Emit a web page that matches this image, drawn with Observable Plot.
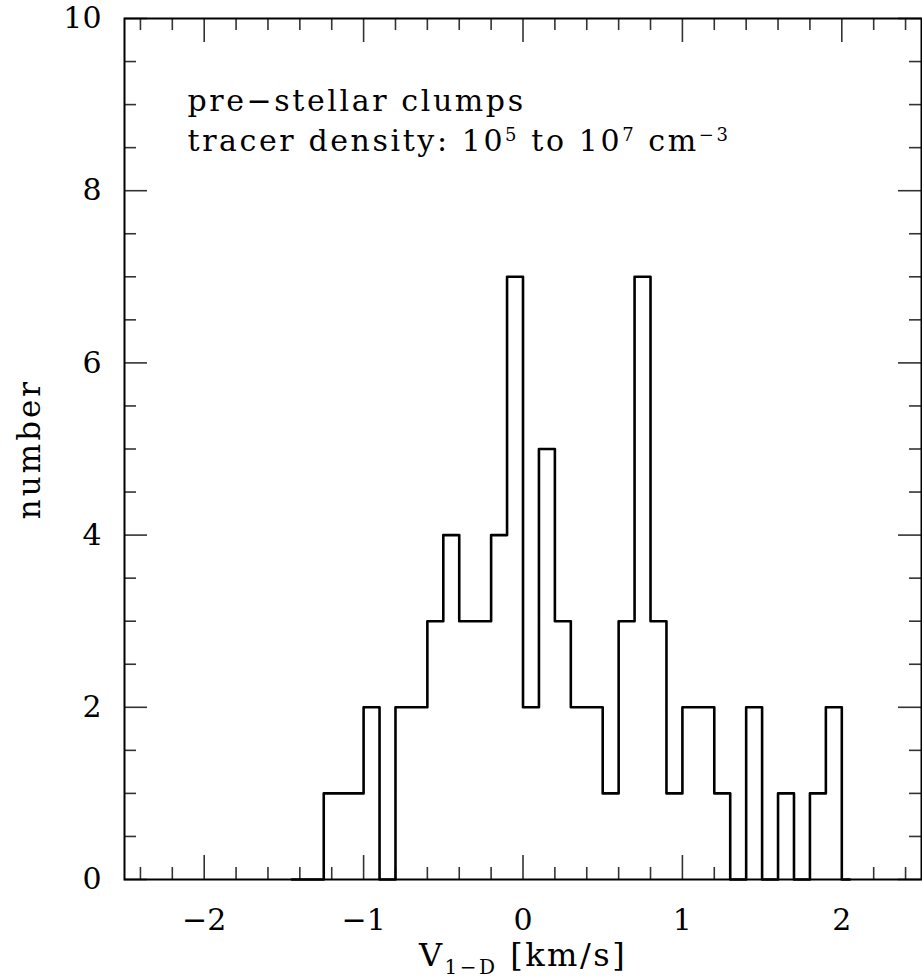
<!DOCTYPE html>
<html>
<head>
<meta charset="utf-8">
<script src="https://cdn.jsdelivr.net/npm/d3@7"></script>
<script src="https://cdn.jsdelivr.net/npm/@observablehq/plot@0.6"></script>
<style>
  body { margin: 0; background: #fff; }
  #chart svg { display: block; }
</style>
</head>
<body>
<div id="chart"></div>
<script>
// Histogram: step edges (km/s) and the count that holds from each edge to the next
const binEdges  = [-1.45, -1.25, -1.0, -0.9, -0.8, -0.6, -0.5, -0.4, -0.2, -0.1, 0.0, 0.1, 0.2, 0.3, 0.5, 0.6, 0.7, 0.8, 0.9, 1.0, 1.2, 1.3, 1.4, 1.5, 1.6, 1.7, 1.8, 1.9, 2.0, 2.05];
const binCounts = [0, 1, 2, 0, 2, 3, 4, 3, 4, 7, 2, 5, 3, 2, 1, 3, 7, 3, 1, 2, 1, 0, 2, 0, 1, 0, 1, 2, 0, 0];

// Axis ticks
const xMajorTicks = [-2, -1, 0, 1, 2];
const xMinorTicks = [-2.4, -2.2, -1.8, -1.6, -1.4, -1.2, -0.8, -0.6, -0.4, -0.2, 0.2, 0.4, 0.6, 0.8, 1.2, 1.4, 1.6, 1.8, 2.2, 2.4];
const yMajorTicks = [0, 2, 4, 6, 8, 10];
const yMinorTicks = [0.5, 1, 1.5, 2.5, 3, 3.5, 4.5, 5, 5.5, 6.5, 7, 7.5, 8.5, 9, 9.5];

// Texts
const yLabel = "number";
const xLabel = "V1−D [km/s]";
const noteLine1 = "pre−stellar clumps";
const noteLine2 = "tracer density: 10^5 to 10^7 cm^−3";

const rows = binEdges.map((e, i) => ({edge: e, count: binCounts[i]}));

const W = 922, H = 980;
const mL = 124, mR = 1, mT = 18, mB = 101;
const pw = W - mL - mR, ph = H - mT - mB;
const tickColor = "#333";
const fmt = d => (d < 0 ? "−" + Math.abs(d) : String(d));

const chart = Plot.plot({
  width: W, height: H,
  marginLeft: mL, marginRight: mR, marginTop: mT, marginBottom: mB,
  style: {fontFamily: "'DejaVu Serif', serif", color: "#000", background: "#fff"},
  x: {domain: [-2.5, 2.5]},
  y: {domain: [0, 10]},
  marks: [
    // ticks on all four sides, pointing inward
    Plot.tickX(xMajorTicks, {x: d => d, insetTop: ph - 24, stroke: tickColor, strokeWidth: 1.6}),
    Plot.tickX(xMajorTicks, {x: d => d, insetBottom: ph - 24, stroke: tickColor, strokeWidth: 1.6}),
    Plot.tickX(xMinorTicks, {x: d => d, insetTop: ph - 12, stroke: tickColor, strokeWidth: 1.6}),
    Plot.tickX(xMinorTicks, {x: d => d, insetBottom: ph - 12, stroke: tickColor, strokeWidth: 1.6}),
    Plot.tickY(yMajorTicks, {y: d => d, insetRight: pw - 23, stroke: tickColor, strokeWidth: 1.6}),
    Plot.tickY(yMajorTicks, {y: d => d, insetLeft: pw - 23, stroke: tickColor, strokeWidth: 1.6}),
    Plot.tickY(yMinorTicks, {y: d => d, insetRight: pw - 12, stroke: tickColor, strokeWidth: 1.6}),
    Plot.tickY(yMinorTicks, {y: d => d, insetLeft: pw - 12, stroke: tickColor, strokeWidth: 1.6}),
    Plot.frame({stroke: "#000", strokeWidth: 2}),
    Plot.line(rows, {x: "edge", y: "count", curve: "step-after", stroke: "#000", strokeWidth: 2.6}),
    Plot.axisX(xMajorTicks, {tickSize: 0, tickPadding: 29, fontSize: 30, label: null, tickFormat: fmt}),
    Plot.axisY(yMajorTicks, {tickSize: 0, tickPadding: 23, fontSize: 30, label: null, tickFormat: fmt}),
    Plot.text([yLabel], {frameAnchor: "left", textAnchor: "middle", lineAnchor: "middle", rotate: -90, dx: -94, fontSize: 31}),
    Plot.text([xLabel], {frameAnchor: "bottom", textAnchor: "middle", lineAnchor: "middle", dy: 76, fontSize: 32}),
    Plot.text([noteLine1], {frameAnchor: "top-left", textAnchor: "start", lineAnchor: "top", dx: 63, dy: 71, fontSize: 30}),
    Plot.text([noteLine2], {frameAnchor: "top-left", textAnchor: "start", lineAnchor: "top", dx: 63, dy: 111, fontSize: 30})
  ]
});

document.getElementById("chart").appendChild(chart);

const svg = d3.select(chart);
const byText = s => svg.selectAll("text").filter(function () { return this.textContent === s; });

byText(yLabel).style("letter-spacing", "3px");
byText(noteLine1).style("letter-spacing", "2.6px");

// x label with subscript
{
  const t = byText(xLabel);
  t.style("letter-spacing", "2.5px");
  t.text(null);
  t.append("tspan").text("V");
  t.append("tspan").attr("font-size", 20).attr("dy", 8).text("1−D");
  t.append("tspan").attr("dy", -8).text(" [km/s]");
}
// note line 2 with superscripts
{
  const t = byText(noteLine2);
  t.style("letter-spacing", "2.6px");
  t.text(null);
  const parts = noteLine2.split(/\^(\S+)/);
  parts.forEach((p, i) => {
    if (i % 2 === 0) {
      const s = t.append("tspan").text(p);
      if (i > 0) s.attr("dy", 10);
    } else {
      t.append("tspan").attr("font-size", 18).attr("dy", -10).text(p);
    }
  });
}
</script>
</body>
</html>
